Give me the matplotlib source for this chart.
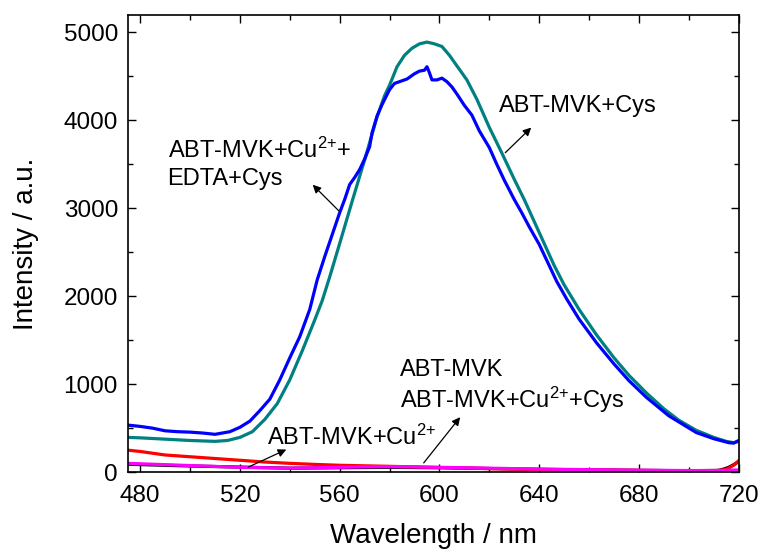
import matplotlib
matplotlib.use("Agg")
import matplotlib.pyplot as plt
from matplotlib.ticker import MultipleLocator

plt.rcParams['font.family'] = ['Liberation Sans', 'DejaVu Sans']
plt.rcParams['mathtext.default'] = 'regular'

# ABT-MVK + Cu2+ + EDTA + Cys (blue)
wl_edta = [475, 480, 485, 490, 495, 500, 505, 510, 513, 516, 520, 524, 528, 532, 536,
           540, 544, 548, 551, 554, 557, 560, 562, 564, 566, 568, 570, 572, 573, 575,
           577, 580, 582, 584, 587, 590, 592, 594, 595, 596, 597, 599, 601, 603, 605,
           607, 610, 613, 616, 620, 623, 626, 630, 633, 636, 640, 643, 647, 651, 656,
           663, 670, 676, 683, 692, 703, 710, 716, 718, 720]
int_edta = [535, 520, 500, 470, 460, 455, 445, 430, 445, 460, 510, 580, 700, 830, 1050,
            1300, 1540, 1850, 2187, 2450, 2700, 2950, 3100, 3270, 3350, 3440, 3560, 3700, 3860, 4050,
            4180, 4350, 4420, 4440, 4470, 4530, 4560, 4570, 4610, 4540, 4460, 4460, 4480, 4440, 4380,
            4300, 4170, 4060, 3880, 3690, 3500, 3320, 3100, 2950, 2790, 2590, 2410, 2170, 1970, 1740,
            1470, 1230, 1040, 850, 640, 450, 380, 335, 330, 360]

# ABT-MVK + Cys (teal)
wl_cys = [475, 480, 490, 500, 505, 510, 515, 520, 525, 530, 535, 540, 545, 550, 553,
          556, 560, 565, 570, 575, 578, 580, 583, 586, 589, 592, 595, 598, 601, 604,
          607, 611, 615, 620, 625, 630, 634, 638, 642, 646, 650, 656, 663, 670, 676,
          683, 690, 696, 703, 710, 715, 718, 720]
int_cys = [395, 390, 375, 360, 355, 350, 360, 395, 460, 600, 780, 1050, 1380, 1730, 1950,
           2220, 2600, 3080, 3550, 4040, 4280, 4400, 4610, 4740, 4820, 4870, 4890, 4870, 4840, 4740,
           4620, 4460, 4240, 3920, 3630, 3330, 3100, 2850, 2600, 2350, 2130, 1850, 1560, 1300, 1100,
           900, 720, 590, 475, 395, 350, 335, 350]

# ABT-MVK + Cu2+ (red)
wl_cu = [475, 480, 485, 490, 500, 510, 520, 530, 540, 550, 560, 570, 580, 590, 600,
         620, 640, 660, 680, 700, 710, 714, 716, 718, 720]
int_cu = [250, 235, 215, 195, 175, 155, 135, 115, 100, 88, 78, 72, 66, 60, 52,
          40, 30, 25, 20, 15, 15, 25, 45, 80, 130]

# ABT-MVK + Cu2+ + Cys (magenta)
wl_cucys = [475, 480, 490, 500, 510, 520, 530, 540, 550, 560, 570, 580, 590, 600,
            620, 640, 660, 680, 700, 710, 720]
int_cucys = [100, 95, 85, 75, 65, 55, 50, 45, 50, 55, 60, 62, 60, 55,
             45, 35, 28, 22, 18, 18, 25]

# ABT-MVK alone (black)
wl_probe = [475, 500, 540, 580, 600, 640, 680, 700, 712, 714, 716, 718, 720]
int_probe = [90, 70, 45, 55, 50, 32, 20, 16, 20, 35, 55, 85, 120]

fig = plt.figure(figsize=(7.6, 5.49), dpi=100)
ax = fig.add_axes([0.168, 0.140, 0.804, 0.833])

lw = 2.3
ax.plot(wl_probe, int_probe, color='black', lw=lw)
ax.plot(wl_cu, int_cu, color='#ff0000', lw=lw)
ax.plot(wl_cucys, int_cucys, color='#ff00ff', lw=lw)
ax.plot(wl_cys, int_cys, color='#008080', lw=lw)
ax.plot(wl_edta, int_edta, color='#0000ff', lw=lw)

ax.set_xlim(475, 720)
ax.set_ylim(0, 5200)
ax.xaxis.set_major_locator(MultipleLocator(40))
ax.xaxis.set_minor_locator(MultipleLocator(20))
ax.yaxis.set_major_locator(MultipleLocator(1000))
ax.yaxis.set_minor_locator(MultipleLocator(500))
ax.tick_params(which='both', direction='in', top=True, right=True, width=1.0)
ax.tick_params(which='major', length=6, labelsize=17.5)
ax.tick_params(axis='x', which='major', pad=9)
ax.tick_params(axis='y', which='major', pad=7)
ax.tick_params(which='minor', length=3.5)
for s in ax.spines.values():
    s.set_linewidth(1.2)

ax.set_xlabel('Wavelength / nm', fontsize=20, labelpad=12)
ax.set_ylabel('Intensity / a.u.', fontsize=20, labelpad=18)

fs = 17
sup = '$^{2{+}}$'
arrow = dict(arrowstyle='-|>', color='black', lw=0.9, mutation_scale=12)
ax.annotate('', xy=(548.4, 3290), xytext=(560.4, 2950), arrowprops=arrow)
ax.text(491, 3510, 'ABT-MVK+Cu' + sup + '+\nEDTA+Cys', fontsize=fs, ha='left', va='center',
        linespacing=1.3)

ax.annotate('', xy=(637.6, 3940), xytext=(625.6, 3610), arrowprops=arrow)
ax.text(624, 4165, 'ABT-MVK+Cys', fontsize=fs, ha='left', va='center')

ax.annotate('', xy=(539.6, 270), xytext=(522.4, 45), arrowprops=arrow)
ax.text(531, 400, 'ABT-MVK+Cu' + sup, fontsize=fs, ha='left', va='center')

ax.annotate('', xy=(609, 650), xytext=(593, 80), arrowprops=arrow)
ax.text(584, 1160, 'ABT-MVK', fontsize=fs, ha='left', va='center')
ax.text(584, 820, 'ABT-MVK+Cu' + sup + '+Cys', fontsize=fs, ha='left', va='center')

fig.savefig('out.png', dpi=100)
